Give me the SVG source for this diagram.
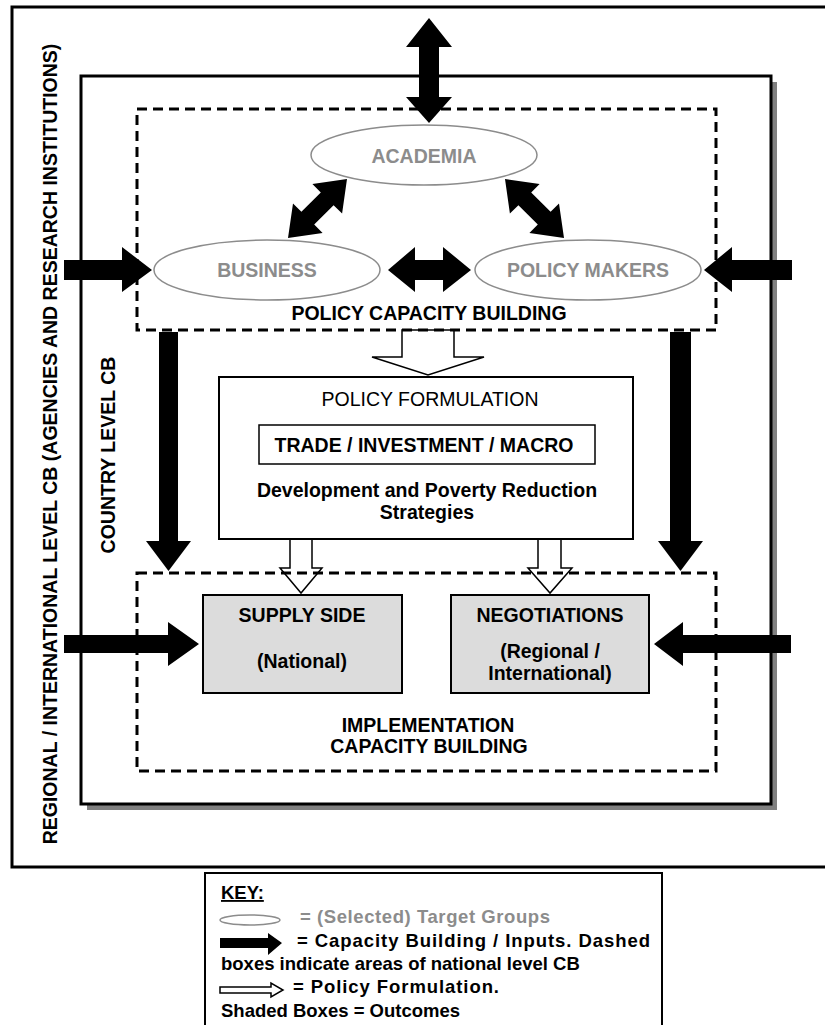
<svg xmlns="http://www.w3.org/2000/svg" width="825" height="1025" viewBox="0 0 825 1025">
<style>
text{font-family:"Liberation Sans",Arial,sans-serif;font-weight:bold;font-size:19.5px;fill:#000}
.c{text-anchor:middle}
.g{fill:#8c8c8c}
.reg{font-weight:normal}
.k{font-size:18.5px}
.dash{fill:none;stroke:#000;stroke-width:3;stroke-dasharray:10 6}
.ell{fill:#fff;stroke:#8c8c8c;stroke-width:1.5}
.blk{fill:#000;stroke:none}
.hol{fill:#fff;stroke:#000;stroke-width:1.5}
.shade{fill:#dcdcdc;stroke:#000;stroke-width:2}
</style>
<rect width="825" height="1025" fill="#fff"/>
<g id="outer">
<rect x="12" y="7" width="830" height="860" fill="none" stroke="#000" stroke-width="3"/>
<text transform="translate(57,444) rotate(-90)" class="c">REGIONAL / INTERNATIONAL LEVEL CB (AGENCIES AND RESEARCH INSTITUTIONS)</text>
</g>
<g id="country">
<rect x="87" y="82" width="690" height="728" fill="#808080"/>
<rect x="81" y="76" width="690" height="728" fill="#fff" stroke="#000" stroke-width="3"/>
<text transform="translate(115,455) rotate(-90)" class="c">COUNTRY LEVEL CB</text>
</g>
<g id="connectors">
<polygon class="blk" points="429,18 452,47 439,47 439,97 452,97 429,123 406,97 419,97 419,47 406,47"/>
<polygon class="blk" points="388,270 415,247 415,260 443,260 443,247 471,270 443,292 443,280 415,280 415,292"/>
<polygon class="blk" points="288,238 322.6,233.1 314.2,224.6 333.6,205.2 342.1,213.6 347,179 312.4,184 320.8,192.4 301.4,211.8 293,203.4"/>
<polygon class="blk" points="564,238 529.4,233.1 537.8,224.6 518.4,205.2 509.9,213.6 505,179 539.6,184 531.2,192.4 550.6,211.8 559,203.4"/>
<polygon class="blk" points="64,260 122,260 122,247 152,270 122,292 122,280 64,280"/>
<polygon class="blk" points="792,260 732,260 732,247 704,270 732,292 732,280 792,280"/>
<polygon class="blk" points="159,332 178,332 178,541 191,541 168.5,571 146,541 159,541"/>
<polygon class="blk" points="670,332 691,332 691,541 703,541 680.5,571 658,541 670,541"/>
<polygon class="blk" points="64,635 168,635 168,622 199,644 168,666 168,653 64,653"/>
<polygon class="blk" points="791,635 683,635 683,622 654,644 683,666 683,653 791,653"/>
<polygon class="hol" points="402,330 454,330 454,357 484,357 428,375 372,357 402,357"/>
<polygon class="hol" points="290,539 312,539 312,568 322,568 301,593 280,568 290,568"/>
<polygon class="hol" points="538,539 561,539 561,568 572,568 550,593 528,568 538,568"/>
</g>
<g id="policy-cb">
<rect class="dash" x="137" y="109" width="579" height="221"/>
<text x="429" y="320" class="c">POLICY CAPACITY BUILDING</text>
</g>
<g id="impl-cb">
<rect class="dash" x="137" y="573" width="579" height="198"/>
<text x="428" y="732" class="c">IMPLEMENTATION</text>
<text x="429" y="753" class="c">CAPACITY BUILDING</text>
</g>
<g id="academia">
<ellipse class="ell" cx="424" cy="155" rx="113" ry="30"/>
<text x="424" y="163" class="c g">ACADEMIA</text>
</g>
<g id="business">
<ellipse class="ell" cx="267" cy="270" rx="113" ry="30"/>
<text x="267" y="277" class="c g">BUSINESS</text>
</g>
<g id="policy-makers">
<ellipse class="ell" cx="588" cy="270" rx="113" ry="30"/>
<text x="588" y="277" class="c g">POLICY MAKERS</text>
</g>
<g id="policy-formulation">
<rect x="219" y="377" width="414" height="162" fill="#fff" stroke="#000" stroke-width="2"/>
<text x="430" y="406" class="c reg">POLICY FORMULATION</text>
<rect x="259" y="425" width="336" height="39" fill="#fff" stroke="#000" stroke-width="1.5"/>
<text x="424" y="452" class="c">TRADE / INVESTMENT / MACRO</text>
<text x="427" y="497" class="c">Development and Poverty Reduction</text>
<text x="427" y="519" class="c">Strategies</text>
</g>
<g id="supply-side">
<rect class="shade" x="203" y="595" width="199" height="98"/>
<text x="302" y="622" class="c">SUPPLY SIDE</text>
<text x="302" y="668" class="c">(National)</text>
</g>
<g id="negotiations">
<rect class="shade" x="451" y="595" width="198" height="98"/>
<text x="550" y="622" class="c">NEGOTIATIONS</text>
<text x="550" y="658" class="c">(Regional /</text>
<text x="550" y="680" class="c">International)</text>
</g>
<g id="key">
<rect x="205" y="873" width="457" height="200" fill="#fff" stroke="#000" stroke-width="2"/>
<text x="221" y="899" class="k" text-decoration="underline">KEY:</text>
<ellipse class="ell" cx="250" cy="920" rx="30" ry="5"/>
<text x="300" y="923" class="k g" textLength="250" lengthAdjust="spacing">= (Selected) Target Groups</text>
<polygon class="blk" points="220,938 268,938 268,933 282,943 268,955 268,948 220,948"/>
<text x="297" y="947" class="k" textLength="353" lengthAdjust="spacing">= Capacity Building / Inputs. Dashed</text>
<text x="221" y="970" class="k">boxes indicate areas of national level CB</text>
<polygon class="hol" points="220,987 271,987 271,983 283,990 271,997 271,993 220,993"/>
<text x="293" y="993" class="k" textLength="206" lengthAdjust="spacing">= Policy Formulation.</text>
<text x="221" y="1017" class="k">Shaded Boxes = Outcomes</text>
</g>
</svg>
